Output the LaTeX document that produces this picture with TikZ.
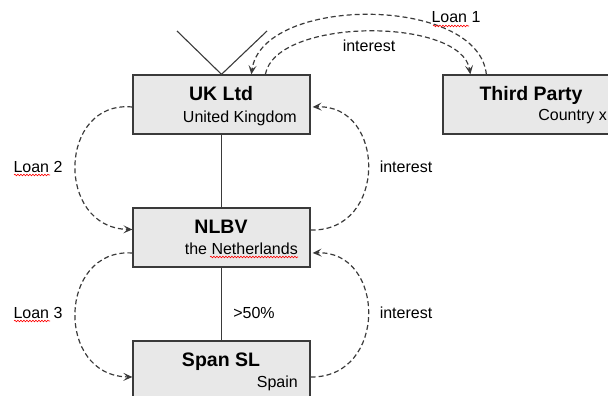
\documentclass[tikz,border=0pt]{standalone}
\usepackage{fontspec}
\setmainfont{Liberation Sans}
\usetikzlibrary{arrows.meta,calc,decorations.pathmorphing}
\definecolor{boxfill}{HTML}{E8E8E8}
\definecolor{edge}{HTML}{3A3A3A}
\tikzset{
  entity/.style={draw=edge, line width=1.3pt, fill=boxfill, minimum width=177pt, minimum height=59pt, inner sep=0pt},
  ttl/.style={font=\fontsize{19.5}{22}\selectfont\bfseries, anchor=base, inner sep=0pt},
  sub/.style={font=\fontsize{16}{19}\selectfont, anchor=base east, inner sep=0pt},
  lbl/.style={font=\fontsize{16}{19}\selectfont, anchor=base, inner sep=0pt},
  flow/.style={draw=edge, line width=1.2pt, dash pattern=on 5pt off 3pt, -{Stealth[length=9pt,width=8pt,inset=4pt]}},
  solidline/.style={draw=edge, line width=1.1pt},
  squig/.style={draw=red, line width=0.6pt, decorate, decoration={snake, amplitude=0.8pt, segment length=3pt}}
}
\begin{document}
\begin{tikzpicture}[x=1pt,y=-1pt]
\useasboundingbox (0,0) rectangle (608,396);
\clip (0,0) rectangle (608,396);
% boxes
\node[entity] (uk) at (221.5,104.5) {};
\node[entity] (nl) at (221.5,237.5) {};
\node[entity] (sp) at (221.5,370.5) {};
\node[entity] (tp) at (531.5,104.5) {};
% texts
\node[ttl] (ukt) at (221,100) {UK Ltd};
\node[sub] (uks) at (297,122) {United Kingdom};
\node[ttl] (nlt) at (221,233) {NLBV};
\node[sub] (nls) at (298,254) {the Netherlands};
\node[ttl] (spt) at (221,366) {Span SL};
\node[sub] (sps) at (298,387) {Spain};
\node[ttl] (tpt) at (531,100) {Third Party};
\node[sub] (tps) at (607,121) {Country x};
% ownership lines
\coordinate (v1) at (177,31);
\coordinate (v2) at (267,31);
\draw[solidline] (v1) -- (uk.north) -- (v2);
\draw[solidline] (uk.south) -- (nl.north);
\draw[solidline] (nl.south) -- (sp.north);
% top flows
\draw[flow] ($(tp.north west)+(44,0)$) .. controls (478,-5) and (262,-5) .. ($(uk.north west)+(119,0)$);
\draw[flow] ($(uk.north west)+(133,0)$) .. controls (276,17) and (462,17) .. ($(tp.north west)+(28,0)$);
% left flows
\draw[flow] ($(uk.west)+(0,2.5)$) .. controls (58,100) and (55,228) .. ($(nl.west)+(0,-8)$);
\draw[flow] ($(nl.west)+(0,15.5)$) .. controls (58,248) and (55,376) .. ($(sp.west)+(0,6.5)$);
% right flows
\draw[flow] ($(nl.east)+(0,-7.5)$) .. controls (388,232) and (386,104) .. ($(uk.east)+(2,2.5)$);
\draw[flow] ($(sp.east)+(0,6.5)$) .. controls (388,378) and (386,250) .. ($(nl.east)+(2,15.5)$);
% labels
\node[lbl] (l1) at (456,23) {Loan 1};
\node[lbl] (i1) at (369,52) {interest};
\node[lbl] (l2) at (38,172) {Loan 2};
\node[lbl] (i2) at (406,172) {interest};
\node[lbl] (l3) at (38,318) {Loan 3};
\node[lbl] (i3) at (406,318) {interest};
\node[lbl] (pc) at (254,318) {>50\%};
% spell-check marks
\draw[squig] (433,26) -- (469,26);
\draw[squig] (14,175) -- (50,175);
\draw[squig] (14,321) -- (50,321);
\draw[squig] (210,257) -- (298,257);
\end{tikzpicture}
\end{document}
